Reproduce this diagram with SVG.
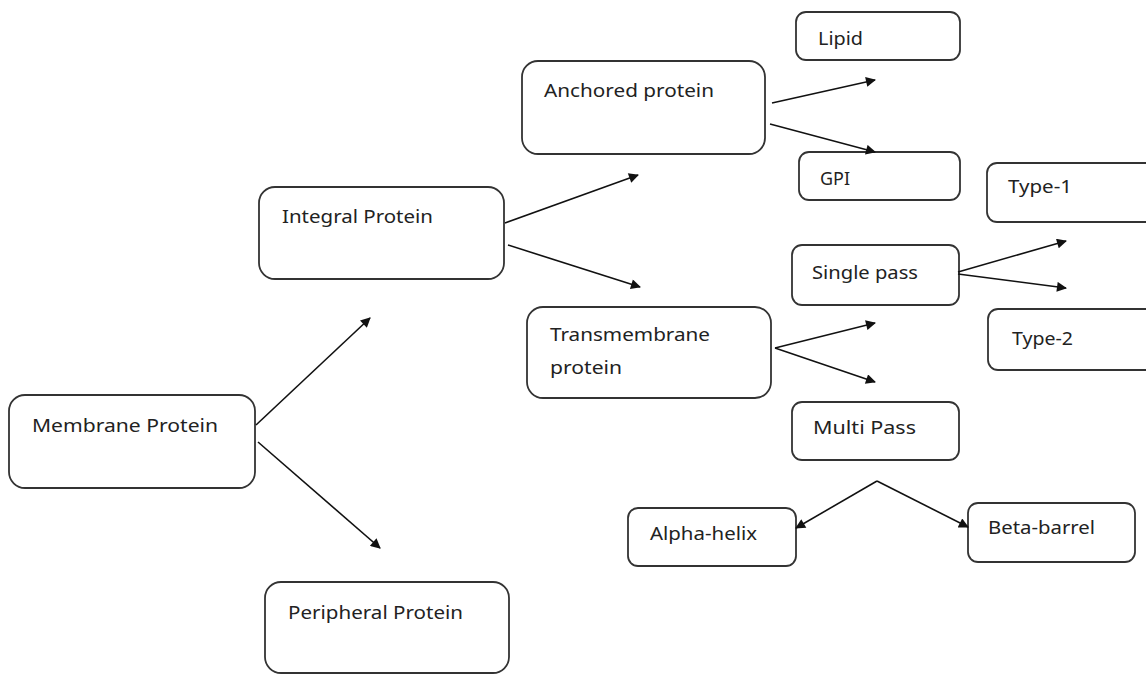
<svg xmlns="http://www.w3.org/2000/svg" width="1146" height="675" viewBox="0 0 1146 675">
<defs>
<style>
.box{fill:#fff;stroke:#333;stroke-width:1.8}
.t{font-family:"Noto Sans","Open Sans",sans-serif;font-size:18px;fill:#222}
.c line{stroke:#111;stroke-width:1.6;fill:none}
</style>
<marker id="ah" viewBox="0 0 10 10" refX="9" refY="5" markerWidth="11" markerHeight="10" markerUnits="userSpaceOnUse" orient="auto">
<path d="M0,0 L10,5 L0,10 z" fill="#111"/>
</marker>
</defs>
<rect width="1146" height="675" fill="#fff"/>
<g id="membrane"><rect class="box" x="9" y="395" width="246" height="93" rx="16"/><text class="t" x="32" y="432" textLength="186" lengthAdjust="spacingAndGlyphs">Membrane Protein</text></g>
<g id="peripheral"><rect class="box" x="265" y="582" width="244" height="91" rx="16"/><text class="t" x="288" y="619" textLength="175" lengthAdjust="spacingAndGlyphs">Peripheral Protein</text></g>
<g id="integral"><rect class="box" x="259" y="187" width="245" height="92" rx="16"/><text class="t" x="282" y="223" textLength="151" lengthAdjust="spacingAndGlyphs">Integral Protein</text></g>
<g id="anchored"><rect class="box" x="522" y="61" width="243" height="93" rx="16"/><text class="t" x="544" y="97" textLength="170" lengthAdjust="spacingAndGlyphs">Anchored protein</text></g>
<g id="lipid"><rect class="box" x="796" y="12" width="164" height="48" rx="10"/><text class="t" x="818" y="45" textLength="45" lengthAdjust="spacingAndGlyphs">Lipid</text></g>
<g id="gpi"><rect class="box" x="799" y="152" width="161" height="48" rx="10"/><text class="t" x="820" y="185" textLength="30" lengthAdjust="spacingAndGlyphs">GPI</text></g>
<g id="type1"><rect class="box" x="987" y="163" width="170" height="59" rx="10"/><text class="t" x="1008" y="193" textLength="64" lengthAdjust="spacingAndGlyphs">Type-1</text></g>
<g id="single"><rect class="box" x="792" y="245" width="167" height="60" rx="10"/><text class="t" x="812" y="279" textLength="106" lengthAdjust="spacingAndGlyphs">Single pass</text></g>
<g id="type2"><rect class="box" x="988" y="309" width="170" height="61" rx="10"/><text class="t" x="1012" y="345" textLength="61" lengthAdjust="spacingAndGlyphs">Type-2</text></g>
<g id="transmembrane"><rect class="box" x="527" y="307" width="244" height="91" rx="16"/><text class="t" x="550" y="341" textLength="160" lengthAdjust="spacingAndGlyphs">Transmembrane</text><text class="t" x="550" y="374" textLength="72" lengthAdjust="spacingAndGlyphs">protein</text></g>
<g id="multi"><rect class="box" x="792" y="402" width="167" height="58" rx="10"/><text class="t" x="813" y="434" textLength="103" lengthAdjust="spacingAndGlyphs">Multi Pass</text></g>
<g id="alpha"><rect class="box" x="628" y="508" width="168" height="58" rx="10"/><text class="t" x="650" y="540" textLength="107" lengthAdjust="spacingAndGlyphs">Alpha-helix</text></g>
<g id="beta"><rect class="box" x="968" y="503" width="167" height="59" rx="10"/><text class="t" x="988" y="534" textLength="107" lengthAdjust="spacingAndGlyphs">Beta-barrel</text></g>
<g class="c" id="connectors">
<line x1="256" y1="425" x2="370" y2="318" marker-end="url(#ah)"/>
<line x1="258" y1="442" x2="380" y2="548" marker-end="url(#ah)"/>
<line x1="505" y1="223" x2="638" y2="175" marker-end="url(#ah)"/>
<line x1="508" y1="245" x2="640" y2="287" marker-end="url(#ah)"/>
<line x1="772" y1="103" x2="875" y2="80" marker-end="url(#ah)"/>
<line x1="770" y1="124" x2="875" y2="152" marker-end="url(#ah)"/>
<line x1="958" y1="272" x2="1066" y2="241" marker-end="url(#ah)"/>
<line x1="958" y1="274" x2="1066" y2="288" marker-end="url(#ah)"/>
<line x1="775" y1="348" x2="875" y2="323" marker-end="url(#ah)"/>
<line x1="775" y1="348" x2="875" y2="382" marker-end="url(#ah)"/>
<line x1="877" y1="481" x2="796" y2="528" marker-end="url(#ah)"/>
<line x1="877" y1="481" x2="968" y2="527" marker-end="url(#ah)"/>
</g>
</svg>
